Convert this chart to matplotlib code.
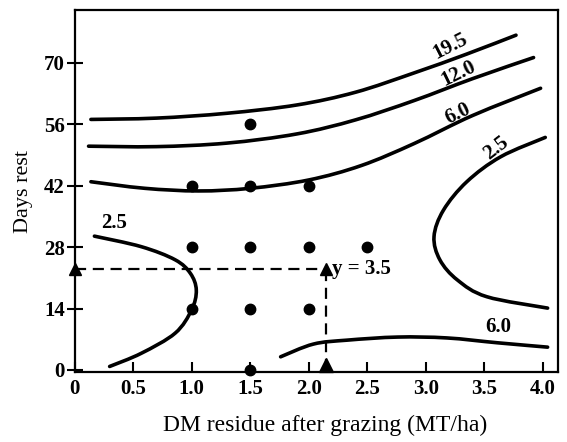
import matplotlib
matplotlib.use("Agg")
import matplotlib.pyplot as plt
from matplotlib.path import Path
from matplotlib.patches import PathPatch

# Contour curves of the response surface (DM residue, days rest)
c195_x = [0.14, 0.70, 1.30, 1.90, 2.40, 2.90, 3.35, 3.77]
c195_y = [57.1, 57.4, 58.5, 60.4, 63.3, 67.7, 72.0, 76.3]

c120_x = [0.12, 0.70, 1.30, 1.90, 2.40, 2.90, 3.40, 3.92]
c120_y = [51.0, 50.9, 51.7, 53.8, 57.0, 61.4, 66.4, 71.2]

c60_x = [0.14, 0.60, 1.06, 1.50, 2.00, 2.45, 2.90, 3.40, 3.98]
c60_y = [42.9, 41.4, 40.8, 41.4, 43.3, 46.6, 51.6, 58.0, 64.2]

c25l_x = [0.17, 0.57, 0.86, 0.99, 1.04, 1.00, 0.86, 0.57, 0.30]
c25l_y = [30.5, 28.1, 25.1, 22.0, 18.2, 13.7, 8.4, 3.8, 0.8]

c25r_x = [4.02, 3.64, 3.35, 3.15, 3.07, 3.12, 3.27, 3.52, 4.04]
c25r_y = [53.0, 48.6, 42.9, 36.4, 30.4, 25.1, 20.5, 16.7, 14.1]

c60b_x = [1.76, 2.04, 2.33, 2.76, 3.18, 3.61, 4.04]
c60b_y = [3.0, 5.9, 6.8, 7.5, 7.3, 6.2, 5.2]

# Design points
pts_x = [1.5, 1.0, 1.5, 2.0, 1.0, 1.5, 2.0, 2.5, 1.0, 1.5, 2.0, 1.5]
pts_y = [56, 42, 42, 42, 28, 28, 28, 28, 14, 14, 14, 0]

# Example reading
ex_x = 2.15
ex_y = 23.0

xticks = [0, 0.5, 1.0, 1.5, 2.0, 2.5, 3.0, 3.5, 4.0]
xticklabels = ["0", "0.5", "1.0", "1.5", "2.0", "2.5", "3.0", "3.5", "4.0"]
yticks = [0, 14, 28, 42, 56, 70]

plt.rcParams["font.family"] = ["Liberation Serif", "DejaVu Serif"]
plt.rcParams["font.weight"] = "bold"

fig = plt.figure(figsize=(5.67, 4.42), dpi=100)
ax = fig.add_axes([0.1314, 0.158, 0.853, 0.819])


def smooth_path(xs, ys):
    """Bezier path passing through the given points (Catmull-Rom handles)."""
    pts = list(zip(xs, ys))
    verts = [pts[0]]
    codes = [Path.MOVETO]
    n = len(pts)
    for i in range(n - 1):
        p0 = pts[i - 1] if i > 0 else pts[i]
        p1 = pts[i]
        p2 = pts[i + 1]
        p3 = pts[i + 2] if i + 2 < n else pts[i + 1]
        c1 = (p1[0] + (p2[0] - p0[0]) / 6, p1[1] + (p2[1] - p0[1]) / 6)
        c2 = (p2[0] - (p3[0] - p1[0]) / 6, p2[1] - (p3[1] - p1[1]) / 6)
        verts += [c1, c2, p2]
        codes += [Path.CURVE4] * 3
    return Path(verts, codes)


lw = 2.6
for cx, cy in [(c195_x, c195_y), (c120_x, c120_y), (c60_x, c60_y),
               (c25l_x, c25l_y), (c25r_x, c25r_y), (c60b_x, c60b_y)]:
    ax.add_patch(PathPatch(smooth_path(cx, cy), fill=False, edgecolor="black",
                           lw=lw, capstyle="round", joinstyle="round"))

ax.plot(pts_x, pts_y, "o", color="black", ms=7.5, clip_on=False, zorder=5)

# Dashed reading lines with arrows
ax.plot([0, ex_x], [ex_y, ex_y], color="black", lw=1.6, dashes=(5, 3))
ax.plot([ex_x, ex_x], [0, ex_y], color="black", lw=1.6, dashes=(5, 3))
ax.plot([0], [ex_y], marker="^", color="black", ms=9, clip_on=False, zorder=6)
ax.plot([ex_x], [ex_y], marker="^", color="black", ms=9, clip_on=False, zorder=6)
ax.plot([ex_x], [1.2], marker="^", color="black", ms=10, clip_on=False, zorder=6)
ax.text(ex_x + 0.05, ex_y, "y = 3.5", fontsize=15, va="center", ha="left")

# Contour labels
lbl = dict(fontsize=15, ha="center", va="center")
ax.text(3.21, 73.8, "19.5", rotation=27, **lbl)
ax.text(3.28, 67.5, "12.0", rotation=26, **lbl)
ax.text(3.27, 58.4, "6.0", rotation=26, **lbl)
ax.text(3.60, 50.6, "2.5", rotation=38, **lbl)
ax.text(0.34, 33.5, "2.5", **lbl)
ax.text(3.62, 9.8, "6.0", **lbl)

ax.set_xlim(0, 4.13)
ax.set_ylim(-0.5, 82)
ax.set_xticks(xticks)
ax.set_xticklabels(xticklabels)
ax.set_yticks(yticks)
ax.tick_params(axis="x", direction="in", length=7, width=1.5,
               labelsize=15, pad=5)
ax.tick_params(axis="y", direction="inout", length=12, width=1.5,
               labelsize=15, pad=1)
for s in ax.spines.values():
    s.set_linewidth(1.6)

ax.set_xlabel("DM residue after grazing (MT/ha)", fontsize=17)
ax.xaxis.set_label_coords(0.518, -0.118)
ax.set_ylabel("Days rest", fontsize=16, labelpad=8)

fig.savefig("out.png", dpi=100)
